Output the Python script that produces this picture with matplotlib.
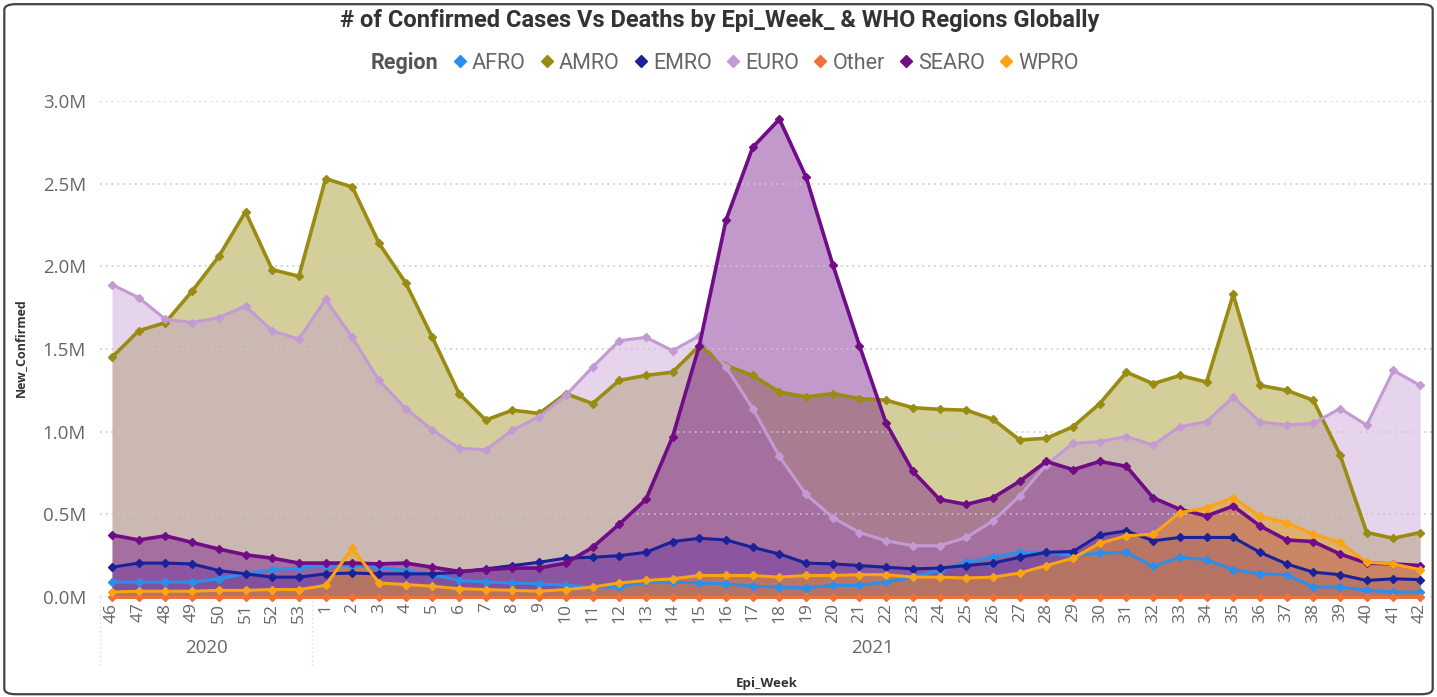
import matplotlib
matplotlib.use('Agg')
import matplotlib.pyplot as plt
from matplotlib.lines import Line2D
from matplotlib.patches import FancyBboxPatch
from matplotlib.ticker import FuncFormatter, MultipleLocator
import numpy as np

plt.rcParams['font.family'] = ['Open Sans', 'DejaVu Sans']

# Epi weeks: 46-53 of 2020, 1-42 of 2021
week_labels = ['46', '47', '48', '49', '50', '51', '52', '53',
               '1', '2', '3', '4', '5', '6', '7', '8', '9', '10',
               '11', '12', '13', '14', '15', '16', '17', '18', '19', '20',
               '21', '22', '23', '24', '25', '26', '27', '28', '29', '30',
               '31', '32', '33', '34', '35', '36', '37', '38', '39', '40',
               '41', '42']
years = ['2020', '2021']
year_sizes = [8, 42]

# New confirmed cases, millions
afro = [0.09, 0.09, 0.09, 0.09, 0.11, 0.14, 0.165, 0.175,
        0.19, 0.19, 0.18, 0.16, 0.135, 0.10, 0.09, 0.085, 0.08, 0.07,
        0.06, 0.06, 0.09, 0.09, 0.085, 0.08, 0.065, 0.06, 0.055, 0.07,
        0.07, 0.09, 0.12, 0.16, 0.21, 0.24, 0.27, 0.27, 0.25, 0.265,
        0.27, 0.185, 0.24, 0.225, 0.165, 0.14, 0.135, 0.06, 0.06, 0.04,
        0.03, 0.03]
amro = [1.45, 1.61, 1.66, 1.85, 2.06, 2.33, 1.98, 1.94,
        2.53, 2.48, 2.14, 1.90, 1.57, 1.23, 1.07, 1.13, 1.11, 1.23,
        1.17, 1.31, 1.34, 1.36, 1.52, 1.40, 1.34, 1.24, 1.21, 1.23,
        1.20, 1.19, 1.145, 1.135, 1.13, 1.075, 0.95, 0.96, 1.03, 1.17,
        1.36, 1.29, 1.34, 1.30, 1.83, 1.28, 1.25, 1.19, 0.86, 0.39,
        0.355, 0.39]
emro = [0.18, 0.205, 0.205, 0.20, 0.16, 0.14, 0.12, 0.12,
        0.14, 0.145, 0.14, 0.14, 0.14, 0.15, 0.17, 0.19, 0.21, 0.235,
        0.24, 0.25, 0.27, 0.335, 0.355, 0.345, 0.30, 0.26, 0.205, 0.20,
        0.19, 0.18, 0.17, 0.175, 0.19, 0.205, 0.24, 0.27, 0.275, 0.375,
        0.40, 0.34, 0.36, 0.36, 0.36, 0.27, 0.20, 0.15, 0.135, 0.10,
        0.11, 0.105]
euro = [1.89, 1.81, 1.68, 1.66, 1.69, 1.76, 1.61, 1.56,
        1.80, 1.57, 1.31, 1.14, 1.01, 0.90, 0.89, 1.01, 1.09, 1.22,
        1.39, 1.55, 1.57, 1.49, 1.58, 1.39, 1.14, 0.85, 0.62, 0.48,
        0.39, 0.34, 0.31, 0.31, 0.36, 0.46, 0.61, 0.80, 0.93, 0.94,
        0.97, 0.92, 1.03, 1.06, 1.21, 1.06, 1.04, 1.05, 1.14, 1.04,
        1.37, 1.28]
other = [0.002, 0.002, 0.002, 0.002, 0.002, 0.002, 0.002, 0.002,
         0.002, 0.002, 0.002, 0.002, 0.002, 0.002, 0.002, 0.002, 0.002, 0.002,
         0.002, 0.002, 0.002, 0.002, 0.002, 0.002, 0.002, 0.002, 0.002, 0.002,
         0.002, 0.002, 0.002, 0.002, 0.002, 0.002, 0.002, 0.002, 0.002, 0.002,
         0.002, 0.002, 0.002, 0.002, 0.002, 0.002, 0.002, 0.002, 0.002, 0.002,
         0.002, 0.002]
searo = [0.375, 0.345, 0.37, 0.33, 0.29, 0.255, 0.235, 0.205,
         0.205, 0.205, 0.20, 0.205, 0.18, 0.155, 0.165, 0.175, 0.175, 0.205,
         0.30, 0.44, 0.59, 0.97, 1.52, 2.28, 2.72, 2.89, 2.54, 2.01,
         1.52, 1.05, 0.76, 0.59, 0.56, 0.60, 0.70, 0.82, 0.77, 0.82,
         0.79, 0.60, 0.53, 0.49, 0.55, 0.43, 0.345, 0.335, 0.26, 0.205,
         0.20, 0.19]
wpro = [0.03, 0.035, 0.035, 0.035, 0.04, 0.04, 0.045, 0.045,
        0.07, 0.295, 0.085, 0.075, 0.065, 0.05, 0.045, 0.04, 0.035, 0.045,
        0.06, 0.085, 0.10, 0.11, 0.13, 0.13, 0.13, 0.12, 0.13, 0.13,
        0.135, 0.135, 0.12, 0.12, 0.115, 0.12, 0.145, 0.19, 0.235, 0.325,
        0.37, 0.38, 0.51, 0.54, 0.60, 0.49, 0.45, 0.38, 0.33, 0.21,
        0.20, 0.165]

regions = ['AFRO', 'AMRO', 'EMRO', 'EURO', 'Other', 'SEARO', 'WPRO']
series = [afro, amro, emro, euro, other, searo, wpro]
colors = ['#2B8EEA', '#9A8C12', '#1B2199', '#C39AD4', '#E8743B', '#700C86', '#FBA413']

fig = plt.figure(figsize=(14.37, 6.97), dpi=100)
fig.patch.set_facecolor('white')
ax = fig.add_axes([0.0696, 0.1435, 0.927, 0.7116])

x = np.arange(len(week_labels))
for vals, c in zip(series, colors):
    ax.fill_between(x, 0, np.array(vals) * 1e6, color=c, alpha=0.42, lw=0, zorder=1)
for vals, c in zip(series, colors):
    lw = 2.6 if c in ('#9A8C12', '#700C86') else 2.2
    ax.plot(x, np.array(vals) * 1e6, color=c, lw=lw, marker='D', ms=4.5, zorder=3,
            clip_on=False)

ax.set_xlim(-0.45, len(week_labels) - 0.55)
ax.set_ylim(0, 3.0e6)
ax.yaxis.set_major_locator(MultipleLocator(0.5e6))
ax.yaxis.set_major_formatter(FuncFormatter(lambda v, p: '%.1fM' % (v / 1e6)))
ax.grid(axis='y', color='#c8c8c8', linestyle=(0, (1, 2.5)), lw=1.2, zorder=0)
for s in ax.spines.values():
    s.set_visible(False)
ax.tick_params(axis='y', length=0, labelsize=13.5, labelcolor='#666666', pad=10)
ax.set_xticks(x)
ax.set_xticklabels(week_labels, rotation=90)
ax.tick_params(axis='x', length=0, labelsize=12.5, labelcolor='#666666', pad=4)

# year grouping below week labels
trans = ax.get_xaxis_transform()
start = -0.45
bounds = [start]
for n in year_sizes:
    bounds.append(bounds[-1] + n if len(bounds) > 1 else -0.5 + n)
ax.plot([start, start], [0, -0.141], transform=trans, color='#dddddd',
        ls=(0, (1, 2)), lw=1, clip_on=False)
ax.plot([bounds[1], bounds[1]], [0, -0.141], transform=trans, color='#dddddd',
        ls=(0, (1, 2)), lw=1, clip_on=False)
left = start
for yr, b in zip(years, bounds[1:]):
    ax.text((left + b) / 2, -0.103, yr, transform=trans, ha='center', va='center',
            fontsize=13.5, color='#666666')
    left = b

fig.text(767 / 1437, 1 - 683 / 697, 'Epi_Week', ha='center', va='center',
         fontsize=9.5, fontweight='bold', color='#333333')
fig.text(20 / 1437, 1 - 348 / 697, 'New_Confirmed', ha='center', va='center',
         rotation=90, fontsize=9, fontweight='bold', color='#333333')
fig.text(720 / 1437, 1 - 21 / 697,
         '# of Confirmed Cases Vs Deaths by Epi_Week_ & WHO Regions Globally',
         ha='center', va='center', fontsize=17, fontweight='bold', color='#333333',
         family=['Roboto', 'DejaVu Sans'])

handles = [Line2D([], [], ls='none')]
labels = ['Region']
for r, c in zip(regions, colors):
    handles.append(Line2D([], [], ls='none', marker='D', ms=6, color=c))
    labels.append(r)
leg = fig.legend(handles, labels, loc='center', ncol=8,
                 bbox_to_anchor=(716 / 1437, 1 - 63 / 697), frameon=False,
                 handlelength=0.5, handletextpad=0.3, columnspacing=0.75,
                 prop={'size': 15.5, 'family': ['Roboto', 'DejaVu Sans']})
for i, t in enumerate(leg.get_texts()):
    t.set_color('#666666')
    if i == 0:
        t.set_fontweight('bold')
        t.set_color('#555555')

border = FancyBboxPatch((0.003, 0.004), 0.994, 0.99,
                        boxstyle='round,pad=0,rounding_size=0.008',
                        transform=fig.transFigure, fill=False, ec='#444444', lw=1.6)
fig.patches.append(border)

fig.savefig('out.png', dpi=100, facecolor='white')
